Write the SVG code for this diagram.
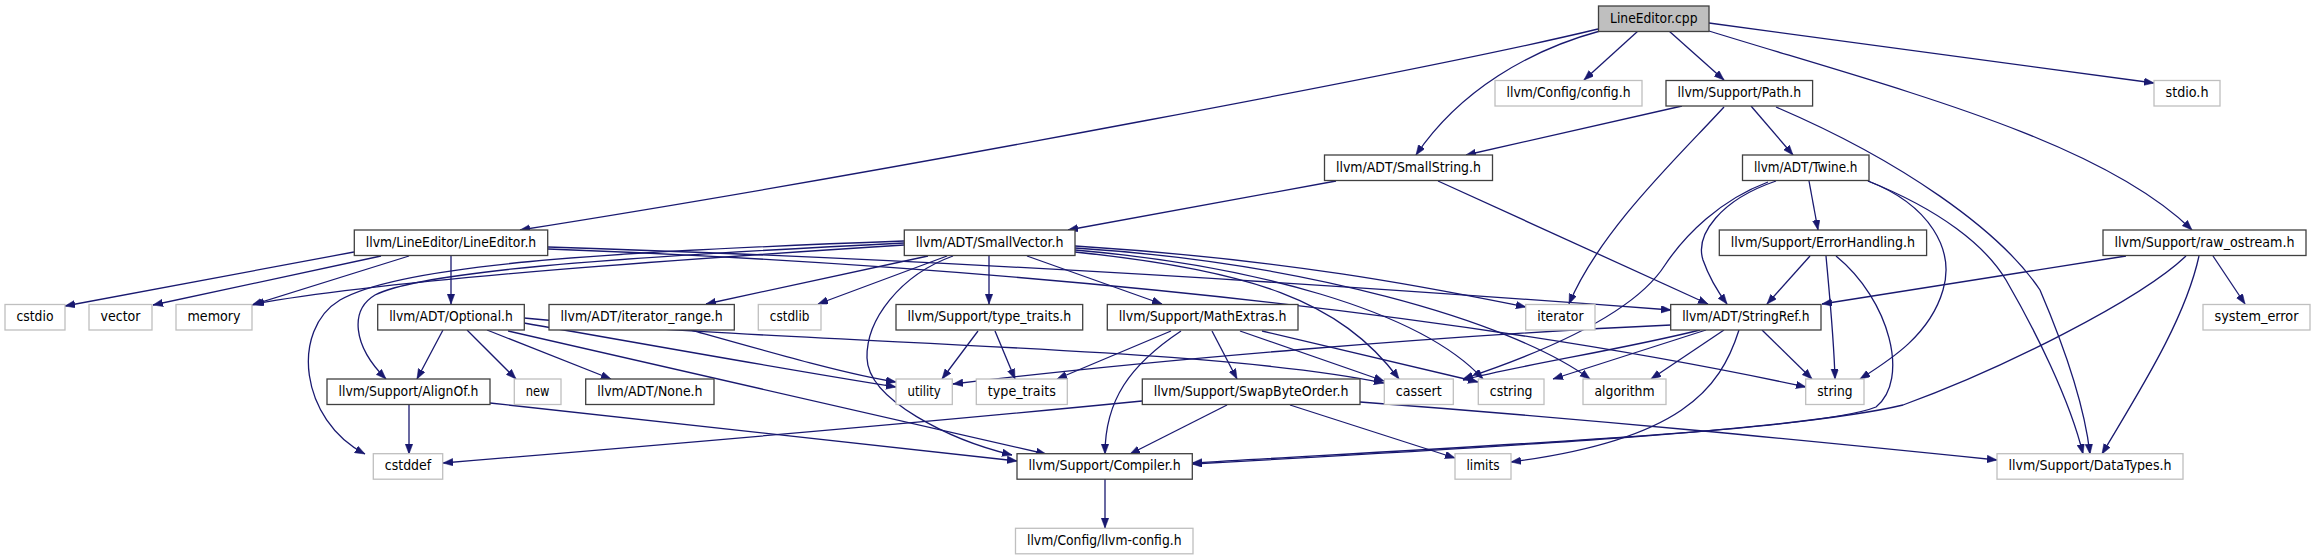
<svg xmlns="http://www.w3.org/2000/svg" width="2315" height="560" viewBox="0 0 2315 560">
<style>
.node rect{fill:#fff;stroke:#404040;stroke-width:1.3}
.node.ext rect{stroke:#bfbfbf}
.node.root rect{fill:#bfbfbf}
.node text{font-family:"DejaVu Sans","Liberation Sans",sans-serif;font-size:14px;text-anchor:middle;fill:#000}
.edges path{fill:none;stroke:#191970;stroke-width:1.3;marker-end:url(#arr)}
</style>
<defs>
<marker id="arr" markerUnits="userSpaceOnUse" markerWidth="11" markerHeight="8" refX="10" refY="3.75" orient="auto">
<path d="M0,0 L10,3.75 L0,7.5 z" fill="#191970" stroke="#191970" stroke-width="0.5"/>
</marker>
</defs>
<rect width="2315" height="560" fill="#fff"/>
<g class="edges" id="edges">
<path d="M1598,29 C1450,65 900,170 520,230"/>
<path d="M1600,31 C1530,50 1460,90 1416,155"/>
<path d="M1638,31 L1584,80"/>
<path d="M1669,31 L1724,80"/>
<path d="M1709,23 L2154,83"/>
<path d="M1709,31 C1900,90 2100,140 2192,230"/>
<path d="M1682,106 L1466,155"/>
<path d="M1751,106 L1793,155"/>
<path d="M1724,107 C1680,155 1600,230 1569,304"/>
<path d="M1776,107 C1900,160 2000,230 2040,290 C2070,360 2085,410 2090,454"/>
<path d="M1336,181 L1068,230"/>
<path d="M1438,181 L1708,304"/>
<path d="M1809,181 L1818,230"/>
<path d="M1776,181 C1720,200 1695,235 1703,260 C1710,280 1718,292 1727,304"/>
<path d="M1768,182 C1720,200 1685,235 1665,265 C1630,320 1520,360 1463,379"/>
<path d="M1868,181 C1930,205 1955,250 1943,290 C1930,335 1890,360 1860,379"/>
<path d="M1868,181 C1940,210 1985,245 2006,280 C2035,330 2070,400 2083,454"/>
<path d="M1810,256 L1767,304"/>
<path d="M1826,256 C1830,300 1834,340 1835,379"/>
<path d="M1836,256 C1890,300 1910,380 1876,407 C1820,430 1500,445 1192,463"/>
<path d="M2186,256 C2140,300 2000,370 1903,405 C1800,430 1500,447 1192,464"/>
<path d="M2126,256 L1822,304"/>
<path d="M2199,256 C2185,320 2140,390 2102,454"/>
<path d="M2213,256 L2245,304"/>
<path d="M1671,325 C1450,335 1150,360 953,384"/>
<path d="M1700,330 C1620,350 1520,365 1463,380"/>
<path d="M1706,330 L1553,379"/>
<path d="M1724,330 L1651,379"/>
<path d="M1762,330 L1812,379"/>
<path d="M1739,330 C1720,390 1680,440 1511,462"/>
<path d="M443,330 L417,379"/>
<path d="M467,330 L516,379"/>
<path d="M487,330 L611,379"/>
<path d="M524,323 C650,345 800,372 896,387"/>
<path d="M524,318 C800,345 1200,345 1384,383"/>
<path d="M508,331 L1046,454"/>
<path d="M691,330 C780,355 850,375 896,382"/>
<path d="M978,331 L942,379"/>
<path d="M995,331 L1015,379"/>
<path d="M1171,331 L1057,379"/>
<path d="M1181,331 C1130,365 1105,400 1105,454"/>
<path d="M1212,331 L1237,379"/>
<path d="M1240,331 L1384,381"/>
<path d="M1262,331 L1478,382"/>
<path d="M904,245 C700,258 400,278 254,304"/>
<path d="M904,243 C600,258 420,272 375,295 C350,310 352,345 386,379"/>
<path d="M904,241 C600,252 400,265 340,300 C290,330 300,420 365,454"/>
<path d="M928,256 L706,304"/>
<path d="M947,256 L818,304"/>
<path d="M989,256 L989,304"/>
<path d="M1027,256 L1162,304"/>
<path d="M953,256 C900,275 866,320 867,358 C868,400 950,440 1012,455"/>
<path d="M1075,252 C1250,270 1340,300 1399,379"/>
<path d="M1075,250 C1250,265 1420,310 1483,379"/>
<path d="M1075,248 C1300,262 1510,320 1590,379"/>
<path d="M1075,246 C1300,260 1450,292 1526,307"/>
<path d="M354,252 L65,306"/>
<path d="M381,256 L153,305"/>
<path d="M409,256 L252,305"/>
<path d="M451,256 L451,304"/>
<path d="M548,247 C900,258 1300,282 1671,310"/>
<path d="M548,249 C900,262 1400,300 1806,387"/>
<path d="M409,405 L409,454"/>
<path d="M490,403 C700,425 900,447 1017,461"/>
<path d="M1142,401 C900,425 600,450 443,463"/>
<path d="M1227,405 L1130,454"/>
<path d="M1290,405 L1455,458"/>
<path d="M1360,402 C1600,420 1800,440 1997,460"/>
<path d="M1105,479 L1105,528"/>
</g>
<g id="n_LineEditor_cpp" class="node root"><rect x="1598.5" y="6" width="110.5" height="25.5"/><text x="1653.75" y="22.5" textLength="87.5" lengthAdjust="spacingAndGlyphs">LineEditor.cpp</text></g>
<g id="n_config_h" class="node ext"><rect x="1495" y="80.5" width="147" height="25.5"/><text x="1568.5" y="97" textLength="124" lengthAdjust="spacingAndGlyphs">llvm/Config/config.h</text></g>
<g id="n_Path_h" class="node"><rect x="1666" y="80.5" width="146.6" height="25.5"/><text x="1739.3" y="97" textLength="123.6" lengthAdjust="spacingAndGlyphs">llvm/Support/Path.h</text></g>
<g id="n_stdio_h" class="node ext"><rect x="2154" y="80.5" width="66" height="25.5"/><text x="2187" y="97" textLength="43" lengthAdjust="spacingAndGlyphs">stdio.h</text></g>
<g id="n_SmallString_h" class="node"><rect x="1324.5" y="155" width="168" height="25.5"/><text x="1408.5" y="171.5" textLength="145" lengthAdjust="spacingAndGlyphs">llvm/ADT/SmallString.h</text></g>
<g id="n_Twine_h" class="node"><rect x="1742.5" y="155" width="126.5" height="25.5"/><text x="1805.75" y="171.5" textLength="103.5" lengthAdjust="spacingAndGlyphs">llvm/ADT/Twine.h</text></g>
<g id="n_LineEditor_h" class="node"><rect x="354.3" y="230" width="193.4" height="25.5"/><text x="451" y="246.5" textLength="170.4" lengthAdjust="spacingAndGlyphs">llvm/LineEditor/LineEditor.h</text></g>
<g id="n_SmallVector_h" class="node"><rect x="904.3" y="230" width="170.7" height="25.5"/><text x="989.65" y="246.5" textLength="147.7" lengthAdjust="spacingAndGlyphs">llvm/ADT/SmallVector.h</text></g>
<g id="n_ErrorHandling_h" class="node"><rect x="1719.3" y="230" width="207.3" height="25.5"/><text x="1822.95" y="246.5" textLength="184.3" lengthAdjust="spacingAndGlyphs">llvm/Support/ErrorHandling.h</text></g>
<g id="n_raw_ostream_h" class="node"><rect x="2103" y="230" width="203" height="25.5"/><text x="2204.5" y="246.5" textLength="180" lengthAdjust="spacingAndGlyphs">llvm/Support/raw_ostream.h</text></g>
<g id="n_cstdio" class="node ext"><rect x="5" y="304.5" width="60" height="25.5"/><text x="35" y="321" textLength="37" lengthAdjust="spacingAndGlyphs">cstdio</text></g>
<g id="n_vector" class="node ext"><rect x="89" y="304.5" width="63" height="25.5"/><text x="120.5" y="321" textLength="40" lengthAdjust="spacingAndGlyphs">vector</text></g>
<g id="n_memory" class="node ext"><rect x="176" y="304.5" width="76" height="25.5"/><text x="214" y="321" textLength="53" lengthAdjust="spacingAndGlyphs">memory</text></g>
<g id="n_Optional_h" class="node"><rect x="377.7" y="304.5" width="146.6" height="25.5"/><text x="451" y="321" textLength="123.6" lengthAdjust="spacingAndGlyphs">llvm/ADT/Optional.h</text></g>
<g id="n_iterator_range_h" class="node"><rect x="549" y="304.5" width="185.3" height="25.5"/><text x="641.65" y="321" textLength="162.3" lengthAdjust="spacingAndGlyphs">llvm/ADT/iterator_range.h</text></g>
<g id="n_cstdlib" class="node ext"><rect x="758.3" y="304.5" width="62.7" height="25.5"/><text x="789.65" y="321" textLength="39.7" lengthAdjust="spacingAndGlyphs">cstdlib</text></g>
<g id="n_type_traits_h" class="node"><rect x="896" y="304.5" width="186.7" height="25.5"/><text x="989.35" y="321" textLength="163.7" lengthAdjust="spacingAndGlyphs">llvm/Support/type_traits.h</text></g>
<g id="n_MathExtras_h" class="node"><rect x="1107.3" y="304.5" width="190.7" height="25.5"/><text x="1202.65" y="321" textLength="167.7" lengthAdjust="spacingAndGlyphs">llvm/Support/MathExtras.h</text></g>
<g id="n_iterator" class="node ext"><rect x="1525.7" y="304.5" width="69.3" height="25.5"/><text x="1560.35" y="321" textLength="46.3" lengthAdjust="spacingAndGlyphs">iterator</text></g>
<g id="n_StringRef_h" class="node"><rect x="1670.7" y="304.5" width="150.3" height="25.5"/><text x="1745.85" y="321" textLength="127.3" lengthAdjust="spacingAndGlyphs">llvm/ADT/StringRef.h</text></g>
<g id="n_system_error" class="node ext"><rect x="2203" y="304.5" width="107" height="25.5"/><text x="2256.5" y="321" textLength="84" lengthAdjust="spacingAndGlyphs">system_error</text></g>
<g id="n_AlignOf_h" class="node"><rect x="327" y="379" width="163" height="25.5"/><text x="408.5" y="395.5" textLength="140" lengthAdjust="spacingAndGlyphs">llvm/Support/AlignOf.h</text></g>
<g id="n_new" class="node ext"><rect x="514.3" y="379" width="46.7" height="25.5"/><text x="537.65" y="395.5" textLength="23.7" lengthAdjust="spacingAndGlyphs">new</text></g>
<g id="n_None_h" class="node"><rect x="585.7" y="379" width="128.3" height="25.5"/><text x="649.85" y="395.5" textLength="105.3" lengthAdjust="spacingAndGlyphs">llvm/ADT/None.h</text></g>
<g id="n_utility" class="node ext"><rect x="896" y="379" width="56.3" height="25.5"/><text x="924.15" y="395.5" textLength="33.3" lengthAdjust="spacingAndGlyphs">utility</text></g>
<g id="n_type_traits" class="node ext"><rect x="976.3" y="379" width="91" height="25.5"/><text x="1021.8" y="395.5" textLength="68" lengthAdjust="spacingAndGlyphs">type_traits</text></g>
<g id="n_SwapByteOrder_h" class="node"><rect x="1142.3" y="379" width="217.7" height="25.5"/><text x="1251.15" y="395.5" textLength="194.7" lengthAdjust="spacingAndGlyphs">llvm/Support/SwapByteOrder.h</text></g>
<g id="n_cassert" class="node ext"><rect x="1384.3" y="379" width="69" height="25.5"/><text x="1418.8" y="395.5" textLength="46" lengthAdjust="spacingAndGlyphs">cassert</text></g>
<g id="n_cstring" class="node ext"><rect x="1478.3" y="379" width="65.7" height="25.5"/><text x="1511.15" y="395.5" textLength="42.7" lengthAdjust="spacingAndGlyphs">cstring</text></g>
<g id="n_algorithm" class="node ext"><rect x="1583" y="379" width="83" height="25.5"/><text x="1624.5" y="395.5" textLength="60" lengthAdjust="spacingAndGlyphs">algorithm</text></g>
<g id="n_string" class="node ext"><rect x="1805.7" y="379" width="58.3" height="25.5"/><text x="1834.85" y="395.5" textLength="35.3" lengthAdjust="spacingAndGlyphs">string</text></g>
<g id="n_cstddef" class="node ext"><rect x="373.3" y="453.7" width="69.4" height="25.5"/><text x="408" y="470.2" textLength="46.4" lengthAdjust="spacingAndGlyphs">cstddef</text></g>
<g id="n_Compiler_h" class="node"><rect x="1017" y="453.7" width="175.3" height="25.5"/><text x="1104.65" y="470.2" textLength="152.3" lengthAdjust="spacingAndGlyphs">llvm/Support/Compiler.h</text></g>
<g id="n_limits" class="node ext"><rect x="1455" y="453.7" width="56" height="25.5"/><text x="1483" y="470.2" textLength="33" lengthAdjust="spacingAndGlyphs">limits</text></g>
<g id="n_DataTypes_h" class="node ext"><rect x="1997" y="453.7" width="186" height="25.5"/><text x="2090" y="470.2" textLength="163" lengthAdjust="spacingAndGlyphs">llvm/Support/DataTypes.h</text></g>
<g id="n_llvm_config_h" class="node ext"><rect x="1015.5" y="528.3" width="177.5" height="25.5"/><text x="1104.25" y="544.8" textLength="154.5" lengthAdjust="spacingAndGlyphs">llvm/Config/llvm-config.h</text></g>
</svg>
